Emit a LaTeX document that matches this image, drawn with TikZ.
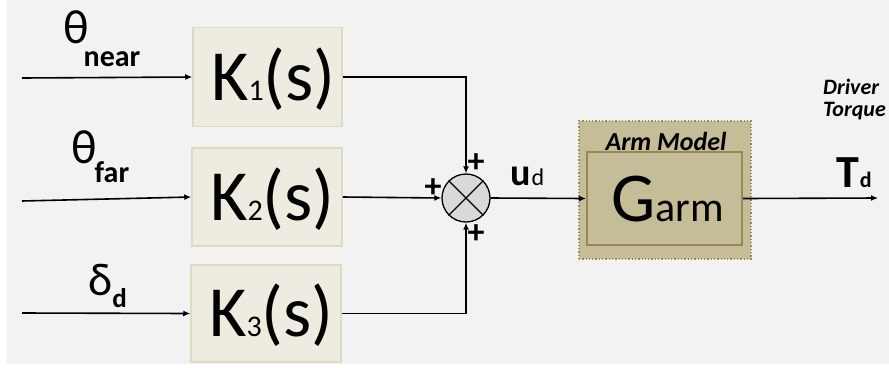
\documentclass[tikz,border=0pt]{standalone}
\usepackage{fontspec}
\setmainfont{Carlito}
\usetikzlibrary{arrows.meta}
\definecolor{bggray}{HTML}{F2F2F2}
\definecolor{kfill}{HTML}{EEECE1}
\definecolor{kdraw}{HTML}{DDD9C3}
\definecolor{armfill}{HTML}{C4BD97}
\definecolor{armdraw}{HTML}{948A54}
\definecolor{sumfill}{HTML}{D9D9D9}
\newcommand{\fs}[1]{\fontsize{#1bp}{#1bp}\selectfont}
\tikzset{
  kbox/.style={draw=kdraw, fill=kfill, line width=1.5bp, inner sep=0pt},
  sig/.style={line width=1.6bp, -{Latex[length=7bp,width=6bp]}},
  lbl/.style={inner sep=0pt, anchor=base west},
  plus/.style={inner sep=0pt, font=\fs{34}\bfseries},
}
\begin{document}
\begin{tikzpicture}[x=1bp,y=-1bp]
\useasboundingbox (0,0) rectangle (889,367);
\fill[bggray] (7,0) rectangle (889,364);
% controller boxes
\node[kbox, minimum width=149bp, minimum height=99bp] (K1) at (267.5,77) {};
\node[kbox, minimum width=150bp, minimum height=98bp] (K2) at (267,197) {};
\node[kbox, minimum width=150bp, minimum height=97bp] (K3) at (266,313.5) {};
\node[lbl] (K1t) at (211,100) {\fs{72}K{\fs{30}1}(s)};
\node[lbl] (K2t) at (210,220) {\fs{72}K{\fs{30}2}(s)};
\node[lbl] (K3t) at (209,336) {\fs{72}K{\fs{30}3}(s)};
% inputs
\coordinate (in1) at (22,78);
\coordinate (in2) at (22,201);
\coordinate (in3) at (22,313);
\draw[sig] (in1) -- (K1.west);
\draw[sig] (in2) -- (K2.west);
\draw[sig] (in3) -- (K3.west);
\node[lbl] (thn) at (63,43) {\fs{48}θ\kern-5bp\raisebox{-23bp}{\fs{30}\bfseries near}};
\node[lbl] (thf) at (71,163) {\fs{48}θ\kern-2bp\raisebox{-19bp}{\fs{30}\bfseries far}};
\node[lbl] (dd) at (88,295) {\fs{46}δ\kern0bp\raisebox{-12bp}{\fs{27}\bfseries d}};
% summing junction
\node[circle, draw, fill=sumfill, line width=1.3bp, minimum size=48bp, inner sep=0pt] (sum) at (466,198) {};
\draw[line width=1.1bp] (sum.north west) -- (sum.south east) (sum.north east) -- (sum.south west);
\draw[sig] (K1.east) -| (sum.north);
\draw[sig] (K2.east) -- (sum.west);
\draw[sig] (K3.east) -| (sum.south);
\node[plus] (p1) at (476,163) {+};
\node[plus] (p2) at (433,188) {+};
\node[plus] (p3) at (476,234) {+};
\node[lbl] (ud) at (510,185) {\fs{38}\bfseries u\kern1bp{\fs{24}\mdseries d}};
% arm model
\node[draw=armdraw, fill=armfill, line width=1.3bp, dotted, minimum width=172bp, minimum height=138bp, inner sep=0pt] (arm) at (665,190) {};
\node[draw=armdraw, fill=armfill, line width=2bp, minimum width=155bp, minimum height=93bp, inner sep=0pt] (G) at (664.5,198.5) {};
\node[inner sep=0pt, font=\fs{26}\bfseries\itshape] (armt) at (666,141) {Arm Model};
\node[lbl] (Gt) at (611,221) {\fs{70}G{\fs{42}arm}};
\draw[sig] (sum.east) -- (G.west);
\coordinate (out) at (878,198);
\draw[sig] (G.east) -- (out);
\node[lbl, align=left, font=\fs{22}\bfseries\itshape] (drv) at (823,116) {Driver\\[0bp]Torque};
\node[lbl] (Td) at (836,187) {\fs{46}\bfseries T\kern1bp{\fs{22}d}};
\end{tikzpicture}
\end{document}
